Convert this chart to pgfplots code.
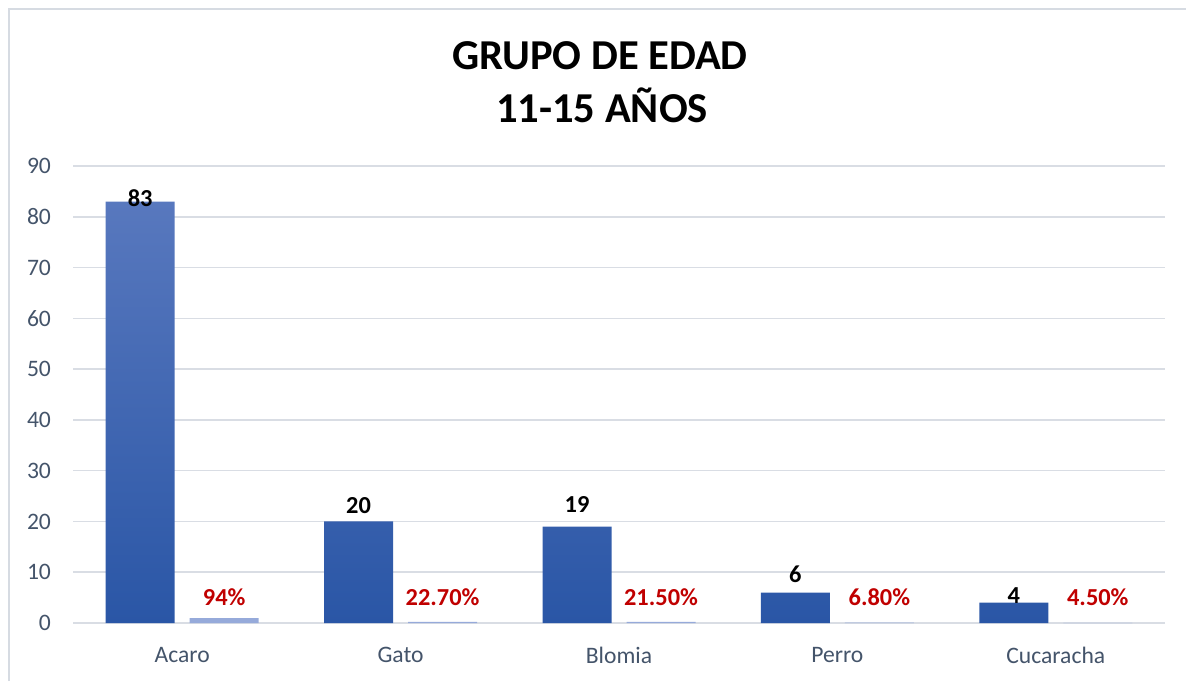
\documentclass[border=0pt]{standalone}
\usepackage{pgfplots}
\pgfplotsset{compat=1.18}
\usepackage{fontspec}
\setmainfont{Carlito}
\definecolor{tickc}{RGB}{68,84,106}
\definecolor{gridc}{RGB}{217,221,228}
\definecolor{bordc}{RGB}{214,219,226}
\definecolor{bartop}{RGB}{88,120,190}
\definecolor{barbot}{RGB}{42,86,166}
\definecolor{bartwo}{RGB}{150,170,218}
\definecolor{redlab}{RGB}{192,0,0}
\begin{document}
\begin{tikzpicture}
\path[use as bounding box] (0,0) rectangle (593pt,340.5pt);
\draw[bordc, line width=1pt] (4.25pt,0) -- (4.25pt,336pt) -- (593pt,336pt);
\node[anchor=base, font=\bfseries\fontsize{21.3}{25}\selectfont] at (300pt,305.5pt) {GRUPO DE EDAD};
\node[anchor=base, font=\bfseries\fontsize{21.3}{25}\selectfont] at (301pt,279pt) {11-15 AÑOS};
\begin{axis}[
  at={(36.5pt,29pt)}, anchor=south west,
  scale only axis, width=546pt, height=228.5pt,
  xmin=-0.5, xmax=4.5, ymin=0, ymax=90,
  bar width=34.5pt,
  ytick={0,10,...,90},
  xtick={0,1,2,3,4},
  xticklabels={Acaro,Gato,Blomia,Perro,Cucaracha},
  axis x line*=bottom, axis y line*=left,
  x axis line style={draw=gridc, line width=0.8pt, -},
  y axis line style={draw=none},
  ymajorgrids, grid style={gridc, line width=0.8pt},
  major tick length=0pt,
  tick style={draw=none},
  ticklabel style={font=\fontsize{11.8}{14}\selectfont, text=tickc},
  /pgf/number format/assume math mode=true,
  yticklabel style={xshift=-7.5pt},
  xticklabel style={yshift=-8.5pt},
  clip=false,
]
\addplot[ybar, bar shift=-21pt, draw=none, top color=bartop, bottom color=barbot]
  coordinates {(0,83) (1,20) (2,19) (3,6) (4,4)};
\addplot[ybar, bar shift=21pt, draw=none, fill=bartwo]
  coordinates {(0,0.94) (1,0.227) (2,0.215) (3,0.068) (4,0.045)};
% data labels of series 1, at their baseline heights
\addplot[draw=none, mark=none, point meta=explicit symbolic,
  nodes near coords, every node near coord/.append style={anchor=base, inner sep=0pt, xshift=-21pt, font=\bfseries\fontsize{12.2}{15}\selectfont, text=black}]
  coordinates {(0,82.1) [83] (1,21.66) [20] (2,21.86) [19] (3,7.88) [6] (4,3.94) [4]};
% data labels of series 2
\addplot[draw=none, mark=none, point meta=explicit symbolic,
  nodes near coords, every node near coord/.append style={anchor=base, inner sep=0pt, xshift=21pt, font=\bfseries\fontsize{12.2}{15}\selectfont, text=redlab}]
  coordinates {(0,3.35) [94\%] (1,3.35) [22.70\%] (2,3.35) [21.50\%] (3,3.35) [6.80\%] (4,3.35) [4.50\%]};
\end{axis}
\end{tikzpicture}
\end{document}
